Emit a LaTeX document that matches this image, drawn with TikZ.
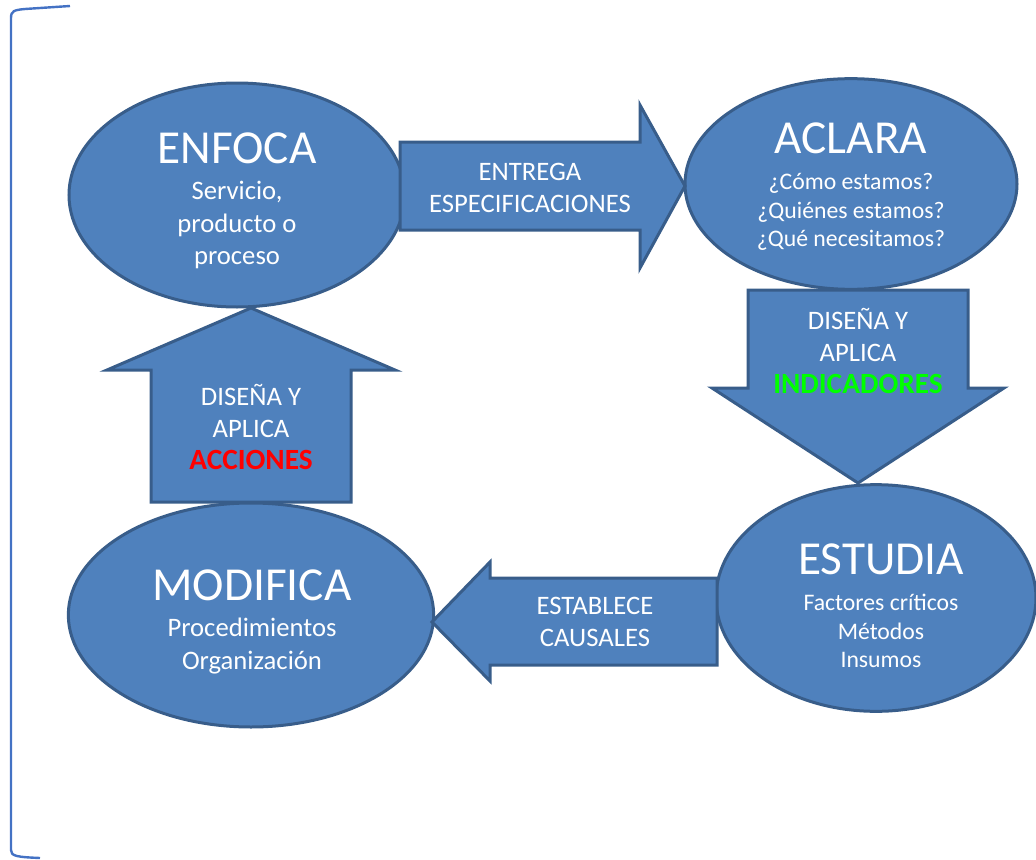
\documentclass[tikz,border=0pt]{standalone}
\usepackage{fontspec}
\setmainfont{Carlito}
\usetikzlibrary{shapes.geometric}
\definecolor{cajaazul}{RGB}{79,129,189}
\definecolor{bordeazul}{RGB}{56,93,138}
\definecolor{marco}{RGB}{68,114,196}
\definecolor{verdeind}{RGB}{0,255,0}
\definecolor{rojoacc}{RGB}{255,0,0}

\begin{document}
\begin{tikzpicture}[x=0.75pt,y=-0.75pt,
  etapa/.style={ellipse,fill=cajaazul,draw=bordeazul,line width=2.25pt,inner sep=0pt},
  flecha/.style={fill=cajaazul,draw=bordeazul,line width=2.25pt,line join=miter},
  titulo/.style={text=white,inner sep=0pt,font=\fontsize{35.5}{42}\selectfont},
  detalle/.style={text=white,align=center,inner sep=0pt,font=\fontsize{17.8}{21.5}\selectfont},
  detallealto/.style={detalle,font=\fontsize{20}{24.5}\selectfont},
  rotulo/.style={text=white,align=center,inner sep=0pt,font=\fontsize{20}{24}\selectfont}]

\def\resalta#1#2{{\fontsize{22}{24}\selectfont\bfseries\color{#1}#2}}

\useasboundingbox (0,0) rectangle (1036,860);

% Frame
\draw[marco,line width=1.8pt] (70,6) -- (25,9) .. controls (14,10) and (11,11) .. (11,18)
  -- (11,850) .. controls (11,856) and (16,857) .. (40,858);

% Stages
\node[etapa,minimum width=252pt,minimum height=168pt] (enfoca) at (237,195) {};
\node[etapa,minimum width=249pt,minimum height=158pt] (aclara) at (851,184) {};
\node[etapa,minimum width=240pt,minimum height=170pt] (estudia) at (876,598) {};
\node[etapa,minimum width=274pt,minimum height=168pt] (modifica) at (251,615) {};

% Block arrows
\draw[flecha] (400,142) -- (640,142) -- (640,105) -- (685,186) -- (640,268) -- (640,230) -- (400,230) -- cycle;
\draw[flecha] (748,290) -- (968,290) -- (968,388) -- (1004,388) -- (858,483) -- (712,388) -- (748,388) -- cycle;
\draw[flecha] (717,578) -- (490,578) -- (490,562) -- (432,622) -- (490,681) -- (490,665) -- (717,665) -- cycle;
\draw[flecha] (351,502) -- (351,370) -- (395,370) -- (251,308) -- (107,370) -- (151,370) -- (151,502) -- cycle;

% Stage texts
\node[titulo] (tenfoca) at (237,148) {ENFOCA};
\node[detallealto] (denfoca) at (237,225) {Servicio,\\producto o\\proceso};
\node[titulo] (taclara) at (851,138) {ACLARA};
\node[detalle] (daclara) at (851,212) {¿Cómo estamos?\\¿Quiénes estamos?\\¿Qué necesitamos?};
\node[titulo] (testudia) at (881,559) {ESTUDIA};
\node[detalle] (destudia) at (881,631) {Factores críticos\\Métodos\\Insumos};
\node[titulo] (tmodifica) at (252,585) {MODIFICA};
\node[detallealto] (dmodifica) at (252,646) {Procedimientos\\Organización};

% Arrow texts
\node[rotulo] (entrega) at (530,188) {ENTREGA\\ESPECIFICACIONES};
\node[rotulo] (indicadores) at (858,351) {DISEÑA Y\\APLICA\\\resalta{verdeind}{INDICADORES}};
\node[rotulo] (causales) at (595,622) {ESTABLECE\\CAUSALES};
\node[rotulo] (acciones) at (251,427) {DISEÑA Y\\APLICA\\\resalta{rojoacc}{ACCIONES}};

\end{tikzpicture}
\end{document}
